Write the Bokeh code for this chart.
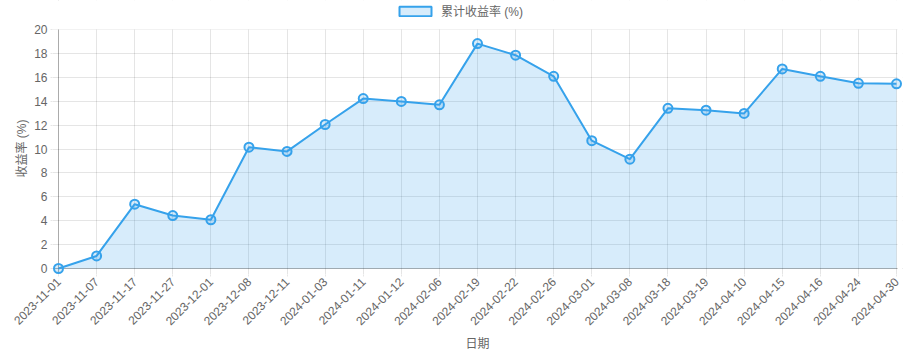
import math
from bokeh.plotting import figure
from bokeh.models import (Range1d, FixedTicker, Legend, LegendItem,
                          ColumnDataSource, BoxAnnotation, Span, Title)
from bokeh.embed import file_html
from bokeh.resources import INLINE

dates = ["2023-11-01", "2023-11-07", "2023-11-17", "2023-11-27", "2023-12-01",
         "2023-12-08", "2023-12-11", "2024-01-03", "2024-01-11", "2024-01-12",
         "2024-02-06", "2024-02-19", "2024-02-22", "2024-02-26", "2024-03-01",
         "2024-03-08", "2024-03-18", "2024-03-19", "2024-04-10", "2024-04-15",
         "2024-04-16", "2024-04-24", "2024-04-30"]
returns = [0.0, 1.05, 5.38, 4.43, 4.08, 10.15, 9.8, 12.05, 14.22, 13.98,
           13.7, 18.82, 17.85, 16.08, 10.7, 9.15, 13.4, 13.25, 12.98, 16.7,
           16.08, 15.5, 15.45]
y_ticks = list(range(0, 21, 2))
series_name = "累计收益率 (%)"
y_title = "收益率 (%)"
x_title = "日期"

FONT = "'Liberation Sans', 'Noto Sans CJK SC', sans-serif"
BLUE = "#36A2EB"
TXT = "#666666"

# data region in pixels, plus a margin so edge points aren't clipped
W, H = 920, 356
L, R, T, B = 58, 896, 29, 268
M = 6
n = len(dates)
xmax = n - 1
ymax = y_ticks[-1]
ppx = (R - L) / xmax
ppy = (B - T) / ymax
dx, dy = M / ppx, M / ppy
dtop = T / ppy  # frame reaches the top of the canvas (legend lives there)

idx = list(range(n))
src = ColumnDataSource(dict(x=idx, y=returns))

p = figure(width=W, height=H, output_backend="svg", toolbar_location=None,
           x_range=Range1d(-dx, xmax + dx), y_range=Range1d(-dy, ymax + dtop),
           min_border_left=L - M, min_border_right=W - R - M,
           min_border_top=0, min_border_bottom=H - B - M)
p.outline_line_color = None
p.background_fill_color = "white"
p.border_fill_color = "white"

p.xgrid.ticker = FixedTicker(ticks=idx)
p.ygrid.ticker = FixedTicker(ticks=y_ticks)
for g in (p.xgrid, p.ygrid):
    g.grid_line_color = "#000000"
    g.grid_line_alpha = 0.1

# zero lines (axis borders), slightly darker
p.add_layout(Span(location=0, dimension="width", line_color="#000000",
                  line_alpha=0.25, line_width=1, level="underlay"))
p.add_layout(Span(location=0, dimension="height", line_color="#000000",
                  line_alpha=0.25, line_width=1, level="underlay"))

# hide grid overshoot beyond the data region (top and right strips)
p.add_layout(BoxAnnotation(bottom=ymax, fill_color="white", fill_alpha=1,
                           line_color=None, level="underlay"))
p.add_layout(BoxAnnotation(left=xmax + 1 / ppx, fill_color="white", fill_alpha=1,
                           line_color=None, level="underlay"))

area = p.varea(x="x", y1=0, y2="y", source=src, fill_color=BLUE, fill_alpha=0.2)
line = p.line(x="x", y="y", source=src, line_color=BLUE, line_width=2)
pts = p.scatter(x="x", y="y", source=src, size=9, marker="circle",
                line_color=BLUE, line_width=2, fill_color=BLUE, fill_alpha=0.2)
# legend swatch only (no visible geometry)
swatch = p.quad(left=[float("nan")], right=[float("nan")],
                bottom=[float("nan")], top=[float("nan")],
                fill_color=BLUE, fill_alpha=0.2, line_color=BLUE, line_width=2)

p.xaxis.ticker = FixedTicker(ticks=idx)
p.xaxis.major_label_overrides = {i: d for i, d in enumerate(dates)}
p.xaxis.major_label_orientation = math.pi / 4
p.yaxis.ticker = FixedTicker(ticks=y_ticks)

for ax in (p.xaxis, p.yaxis):
    ax.axis_line_color = None
    ax.major_tick_line_color = "#e6e6e6"
    ax.major_tick_out = 8 - M
    ax.major_tick_in = 0
    ax.minor_tick_line_color = None
    ax.major_label_text_font = FONT
    ax.major_label_text_font_size = "12px"
    ax.major_label_text_color = TXT
    ax.major_label_standoff = 3
    ax.axis_label_text_font = FONT
    ax.axis_label_text_font_size = "12px"
    ax.axis_label_text_color = TXT
    ax.axis_label_text_font_style = "normal"

p.xaxis.axis_label = x_title

# y title, centred on the data region rather than the (taller) frame
ytitle = Title(text=y_title, align="left", offset=(B + M) - 177,
               text_font=FONT, text_font_size="12px", text_color=TXT,
               text_font_style="normal", standoff=6)
p.add_layout(ytitle, "left")

legend = Legend(items=[LegendItem(label=series_name, renderers=[swatch])],
                orientation="horizontal", location=(395 - (L - M), B + M - 19),
                glyph_width=40, glyph_height=12, padding=0, margin=0,
                label_text_font=FONT, label_text_font_size="12px",
                label_text_color=TXT, border_line_color=None,
                background_fill_alpha=0, label_standoff=6, label_height=12)
p.add_layout(legend, "center")

open("out.html", "w").write(file_html(p, INLINE))
